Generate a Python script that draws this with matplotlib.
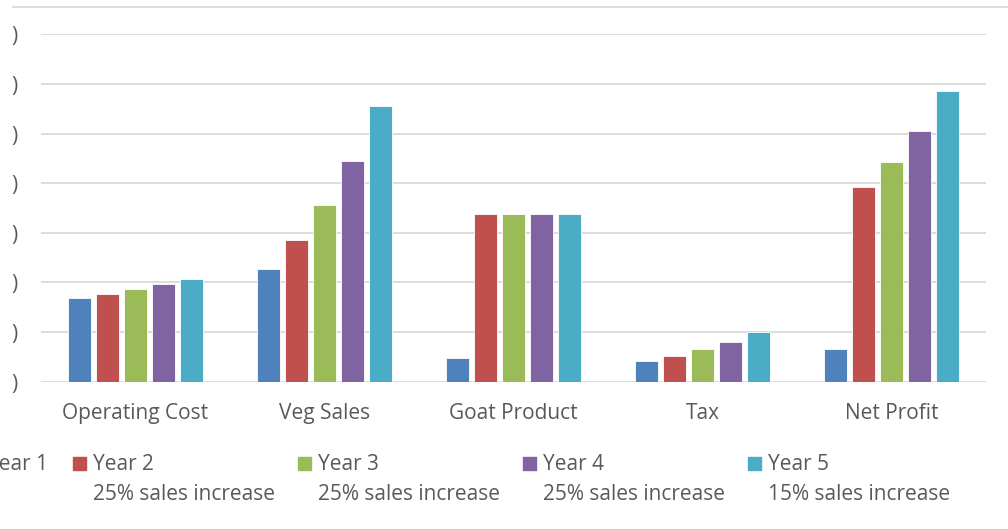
import matplotlib.pyplot as plt
import numpy as np
from matplotlib.patches import Rectangle
from matplotlib.lines import Line2D

plt.rcParams["font.family"] = ["Open Sans", "DejaVu Sans"]

categories = ["Operating Cost", "Veg Sales", "Goat Product", "Tax", "Net Profit"]
series = ["Year 1", "Year 2", "Year 3", "Year 4", "Year 5"]
notes = ["", "25% sales increase", "25% sales increase", "25% sales increase", "15% sales increase"]

year1 = [1.69, 2.28, 0.48, 0.42, 0.66]
year2 = [1.77, 2.85, 3.37, 0.52, 3.92]
year3 = [1.86, 3.56, 3.37, 0.65, 4.42]
year4 = [1.96, 4.45, 3.37, 0.80, 5.05]
year5 = [2.06, 5.56, 3.37, 1.00, 5.86]
values = [year1, year2, year3, year4, year5]

colors = ["#4F81BD", "#C0504D", "#9BBB59", "#8064A2", "#4BACC6"]
TEXT = "#595959"
GRID = "#D9D9D9"
FS = 15

W, H = 1008, 529
fig = plt.figure(figsize=(W / 100, H / 100), dpi=100)

# plot area in pixels
left, right, bottom, top = 41, 986, 381.7, 34.3
ax = fig.add_axes([left / W, 1 - bottom / H, (right - left) / W, (bottom - top) / H])

x = np.arange(len(categories))
slot = 0.147
for i, (vals, col) in enumerate(zip(values, colors)):
    ax.bar(
        x + (i - 2) * slot,
        vals,
        width=0.122,
        color=col,
        edgecolor="white",
        linewidth=0.6,
        zorder=3,
    )

ax.set_xlim(-0.5, len(categories) - 0.5)
ax.set_ylim(0, 7)
ax.set_yticks(range(8))
ax.set_yticklabels([")"] * 8, color=TEXT, fontsize=FS)
ax.set_xticks(x)
ax.set_xticklabels(categories, color=TEXT, fontsize=FS)
ax.tick_params(axis="y", length=0, pad=17)
ax.tick_params(axis="x", length=0, pad=15)
ax.grid(axis="y", color=GRID, linewidth=1.3, zorder=0)
for s in ax.spines.values():
    s.set_visible(False)

# outer chart border (top line)
fig.add_artist(Line2D([13 / W, 1.0], [1 - 6.5 / H, 1 - 6.5 / H], color=GRID, linewidth=1.3))

# legend, drawn by hand (left edge is cropped in the original)
entry_x = [-33, 73, 298, 523, 748]
for ex, name, note, col in zip(entry_x, series, notes, colors):
    fig.add_artist(Rectangle((ex / W, 1 - 470 / H), 13 / W, 13 / H, color=col,
                             transform=fig.transFigure))
    fig.text((ex + 20) / W, 1 - 464 / H, name, color=TEXT, fontsize=FS, va="center")
    if note:
        fig.text((ex + 20) / W, 1 - 494 / H, note, color=TEXT, fontsize=FS, va="center")

fig.savefig("out.png", dpi=100)
